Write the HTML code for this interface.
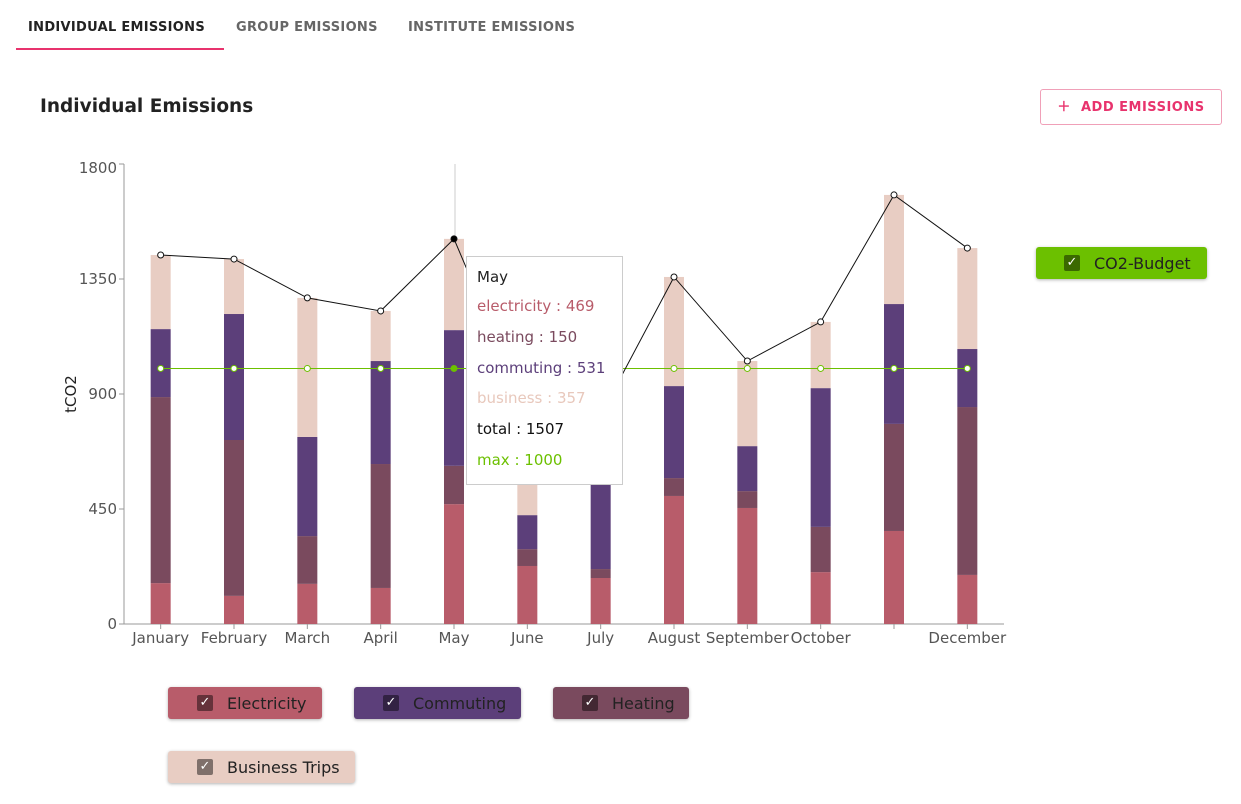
<!DOCTYPE html>
<html><head><meta charset="utf-8"><style>
body{margin:0;width:1241px;height:804px;background:#fff;font-family:"DejaVu Sans","Liberation Sans",sans-serif;position:relative;overflow:hidden}
.tab{position:absolute;top:20px;font-size:13px;font-weight:bold;color:#666;letter-spacing:.3px}
.leg{position:absolute;height:32px;border-radius:3px;box-shadow:0 1px 3px rgba(0,0,0,.3);font-size:16px;color:#222;display:flex;align-items:center}
.cb{width:16px;height:16px;border-radius:2px;background:rgba(0,0,0,.45);margin:0 14px 0 29px;color:#fff;font-size:13px;line-height:16px;text-align:center}
</style></head><body>
<div class="tab" style="left:28px;color:#222">INDIVIDUAL EMISSIONS</div>
<div class="tab" style="left:236px">GROUP EMISSIONS</div>
<div class="tab" style="left:408px">INSTITUTE EMISSIONS</div>
<div style="position:absolute;left:16px;top:48px;width:208px;height:2px;background:#e8336d"></div>
<div style="position:absolute;left:40px;top:96px;font-size:18.5px;font-weight:bold;color:#222">Individual Emissions</div>
<div style="position:absolute;left:1040px;top:89px;width:180px;height:34px;border:1px solid #f0a0b8;border-radius:3px;color:#e8336d;font-size:13px;font-weight:bold;line-height:36px;text-align:center;letter-spacing:.5px">＋&nbsp; ADD EMISSIONS</div>
<svg id="chart" width="1241" height="804" style="position:absolute;left:0;top:0;font-family:'DejaVu Sans','Liberation Sans',sans-serif"></svg>
<div style="position:absolute;left:466px;top:256px;width:157px;height:229px;background:#fff;border:1px solid #ccc;font-size:15px;line-height:30.8px;padding:6px 0 0 10px;box-sizing:border-box">
<div style="color:#222;line-height:28px">May</div><div style="color:#b85c6a">electricity : 469</div><div style="color:#7a4a5e">heating : 150</div><div style="color:#5c3f7a">commuting : 531</div><div style="color:#e8c8bc">business : 357</div><div style="color:#111">total : 1507</div><div style="color:#6cc000">max : 1000</div></div>
<div class="leg" style="left:1036px;top:247px;width:171px;background:#6cc000"><span class="cb" style="margin-left:28px">✓</span>CO2-Budget</div>
<div class="leg" style="left:168px;top:687px;width:154px;background:#b85c6a"><span class="cb">✓</span>Electricity</div>
<div class="leg" style="left:354px;top:687px;width:167px;background:#5c3f7a"><span class="cb">✓</span>Commuting</div>
<div class="leg" style="left:553px;top:687px;width:136px;background:#7a4a5e"><span class="cb">✓</span>Heating</div>
<div class="leg" style="left:168px;top:751px;width:187px;background:#e8cdc3"><span class="cb">✓</span>Business Trips</div>
<script>
const months=["January","February","March","April","May","June","July","August","September","October","November","December"];
const monthLabels=["January","February","March","April","May","June","July","August","September","October","","December"];
const electricity=[160,110,157,141,469,227,180,501,454,203,364,192];
const heating=[728,610,187,485,150,66,35,70,66,177,419,657];
const commuting=[266,493,388,403,531,133,385,360,176,543,469,227];
const business=[290,215,544,196,357,404,217,427,333,259,427,395];
const maxBudget=1000;
const yTicks=[0,450,900,1350,1800];
const svg=document.getElementById('chart');const NS='http://www.w3.org/2000/svg';
const X0=124,X1=1004,Y0=624,Y1=164,band=(X1-X0)/months.length;
const x=i=>X0+band*(i+.5),y=v=>Y0-(v/1800)*(Y0-Y1);
function mk(t,a,p){const e=document.createElementNS(NS,t);for(const k in a)e.setAttribute(k,a[k]);(p||svg).appendChild(e);return e}
let e=mk('line',{x1:X0,y1:Y1,x2:X0,y2:Y0,stroke:'#999'});

e=mk('line',{x1:X0,y1:Y0,x2:X1,y2:Y0,stroke:'#999'});

yTicks.forEach(v=>{mk('line',{x1:X0-5,y1:y(v),x2:X0,y2:y(v),stroke:'#999'});
const t=mk('text',{x:X0-7,y:y(v)+5+(v==1800?4:0),'text-anchor':'end','font-size':15,fill:'#555'});t.textContent=v;
});
e=mk('text',{x:76,y:394,'font-size':15,fill:'#222',transform:'rotate(-90 76 394)','text-anchor':'middle'});e.textContent='tCO2';

mk('line',{x1:455,y1:Y1,x2:455,y2:Y0,stroke:'#ccc'});
const series=[[electricity,'#b85c6a','electricity'],[heating,'#7a4a5e','heating'],[commuting,'#5c3f7a','commuting'],[business,'#e8cdc3','business']];
const totals=months.map((m,i)=>electricity[i]+heating[i]+commuting[i]+business[i]);
months.forEach((m,i)=>{let c=0;series.forEach(([arr,col,n])=>{const r=mk('rect',{x:x(i)-10,y:y(c+arr[i]),width:20,height:y(c)-y(c+arr[i]),fill:col});
c+=arr[i];});
mk('line',{x1:x(i),y1:Y0,x2:x(i),y2:Y0+5,stroke:'#999'});
const t=mk('text',{x:x(i),y:Y0+19,'text-anchor':'middle','font-size':15,fill:'#555'});t.textContent=monthLabels[i];
});
e=mk('line',{x1:x(0),y1:y(maxBudget),x2:x(11),y2:y(maxBudget),stroke:'#6cc000'});

e=mk('polyline',{points:totals.map((v,i)=>x(i)+','+y(v)).join(' '),fill:'none',stroke:'#111'});

months.forEach((m,i)=>{let p=mk('circle',{cx:x(i),cy:y(maxBudget),r:3,fill:i==4?'#6cc000':'#fff',stroke:'#6cc000'});

p=mk('circle',{cx:x(i),cy:y(totals[i]),r:3,fill:i==4?'#000':'#fff',stroke:'#111'});
});
</script>
</body></html>
